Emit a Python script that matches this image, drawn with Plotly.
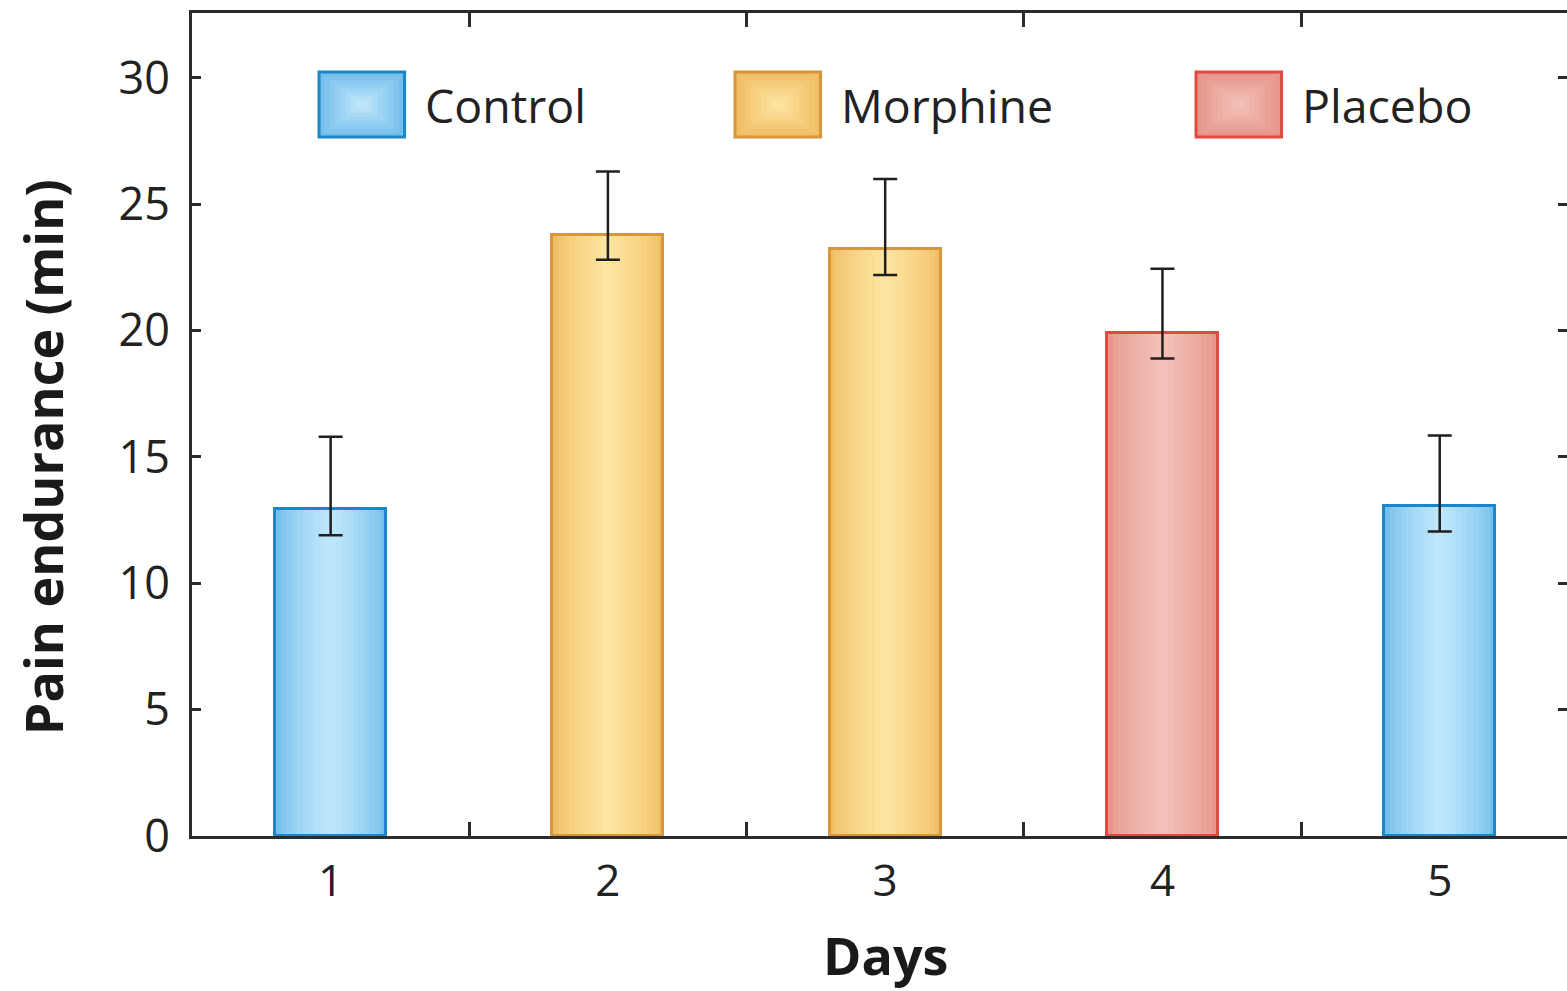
import plotly.graph_objects as go

# ---- data ----
days = [1, 2, 3, 4, 5]
day_group = ["Control", "Morphine", "Morphine", "Placebo", "Control"]
endurance = [12.95, 23.8, 23.25, 19.9, 13.05]
err_plus = [2.85, 2.5, 2.75, 2.55, 2.8]
err_minus = [1.05, 1.0, 1.05, 1.0, 1.0]
groups = ["Control", "Morphine", "Placebo"]
y_ticks = [0, 5, 10, 15, 20, 25, 30]

# ---- styles ----
STYLE = {
    "Control": {"edge": (118, 190, 236), "center": (190, 230, 250), "line": "#1b86c9"},
    "Morphine": {"edge": (240, 190, 100), "center": (253, 228, 160), "line": "#d8953a"},
    "Placebo": {"edge": (230, 150, 138), "center": (242, 192, 184), "line": "#e04a40"},
}
FONT = "Open Sans"
AXIS_COLOR = "#2b2b2b"
BAR_W = 0.4
N_LAYERS = 10


def mix(a, b, t):
    return "rgb({},{},{})".format(*[round(a[i] + (b[i] - a[i]) * t) for i in range(3)])


fig = go.Figure()

# Layered bars of shrinking width give each bar a soft horizontal gradient
for k in range(N_LAYERS):
    t = k / (N_LAYERS - 1)
    fig.add_trace(go.Bar(
        x=days, y=endurance,
        width=BAR_W * (1 - k / N_LAYERS),
        marker=dict(color=[mix(STYLE[g]["edge"], STYLE[g]["center"], t ** 0.7) for g in day_group],
                    line=dict(width=0)),
        showlegend=False, hoverinfo="skip",
    ))

# Outline bars carry the error bars
fig.add_trace(go.Bar(
    x=days, y=endurance, width=BAR_W,
    marker=dict(color="rgba(0,0,0,0)",
                line=dict(color=[STYLE[g]["line"] for g in day_group], width=3)),
    error_y=dict(type="data", symmetric=False, array=err_plus, arrayminus=err_minus,
                 color="#1f1f1f", thickness=2.5, width=12),
    showlegend=False,
))

# Legend: large swatches with labels across the top of the plot area
legend_pos = {"Control": 0.0924, "Morphine": 0.3949, "Placebo": 0.7302}
box_w, y0, y1 = 0.0622, 0.8493, 0.9283
shapes, annotations = [], []
for g in groups:
    x0 = legend_pos[g]
    layers = 8
    for k in range(layers):
        f = k / layers
        shapes.append(dict(type="rect", xref="paper", yref="paper",
                           x0=x0 + box_w * f / 2, x1=x0 + box_w * (1 - f / 2),
                           y0=y0 + (y1 - y0) * f / 2, y1=y1 - (y1 - y0) * f / 2,
                           fillcolor=mix(STYLE[g]["edge"], STYLE[g]["center"], k / (layers - 1)),
                           line=dict(width=0), layer="above"))
    shapes.append(dict(type="rect", xref="paper", yref="paper", x0=x0, x1=x0 + box_w,
                       y0=y0, y1=y1, line=dict(color=STYLE[g]["line"], width=3),
                       fillcolor="rgba(0,0,0,0)", layer="above"))
    annotations.append(dict(text=g, xref="paper", yref="paper", x=x0 + box_w + 0.0135,
                            y=(y0 + y1) / 2, xanchor="left", yanchor="middle", showarrow=False,
                            font=dict(family=FONT, size=46.5, color="#222222")))

# Axis titles
title_font = dict(family=FONT, size=52, color="#1a1a1a")
annotations.append(dict(text="<b>Pain endurance (min)</b>", xref="paper", yref="paper",
                        x=-0.109, y=0.4605, textangle=-90, xanchor="center", yanchor="middle",
                        showarrow=False, font=title_font))
annotations.append(dict(text="<b>Days</b>", xref="paper", yref="paper",
                        x=0.5045, y=-0.1445, xanchor="center", yanchor="middle",
                        showarrow=False, font=title_font))

fig.update_layout(
    width=1567, height=991,
    margin=dict(l=192, r=0, t=13, b=155),
    paper_bgcolor="white", plot_bgcolor="white",
    barmode="overlay", bargap=0,
    shapes=shapes, annotations=annotations,
    font=dict(family=FONT, color="#222222"),
    xaxis=dict(
        range=[0.5, 5.459], tickvals=days, ticktext=[str(d) for d in days],
        showline=True, linecolor=AXIS_COLOR, linewidth=3, mirror=True,
        ticks="", showgrid=False, zeroline=False, ticklabelstandoff=4,
        tickfont=dict(family=FONT, size=44, color="#222222"),
    ),
    # Inside ticks between the day categories, on bottom and top edges
    xaxis2=dict(
        overlaying="x", matches="x", range=[0.5, 5.459], side="bottom",
        tickvals=[1.5, 2.5, 3.5, 4.5], ticks="inside", ticklen=14, tickwidth=3,
        tickcolor=AXIS_COLOR, showticklabels=False, showline=False, showgrid=False,
        zeroline=False, mirror="ticks",
    ),
    yaxis=dict(
        range=[0, 32.57], tickvals=y_ticks,
        showline=True, linecolor=AXIS_COLOR, linewidth=3, mirror=False,
        ticks="inside", ticklen=9, tickwidth=2.5, tickcolor=AXIS_COLOR,
        showgrid=False, zeroline=False, ticklabelstandoff=10,
        tickfont=dict(family=FONT, size=45, color="#222222"),
    ),
    yaxis2=dict(
        overlaying="y", matches="y", side="right", tickvals=y_ticks,
        ticks="inside", ticklen=9, tickwidth=2.5, tickcolor=AXIS_COLOR,
        showticklabels=False, showline=False, showgrid=False, zeroline=False,
    ),
)

# invisible trace to activate the secondary axes
fig.add_trace(go.Scatter(x=[1], y=[0], xaxis="x2", yaxis="y2", mode="markers",
                         marker=dict(opacity=0), showlegend=False, hoverinfo="skip"))

fig.write_html("out.html")
